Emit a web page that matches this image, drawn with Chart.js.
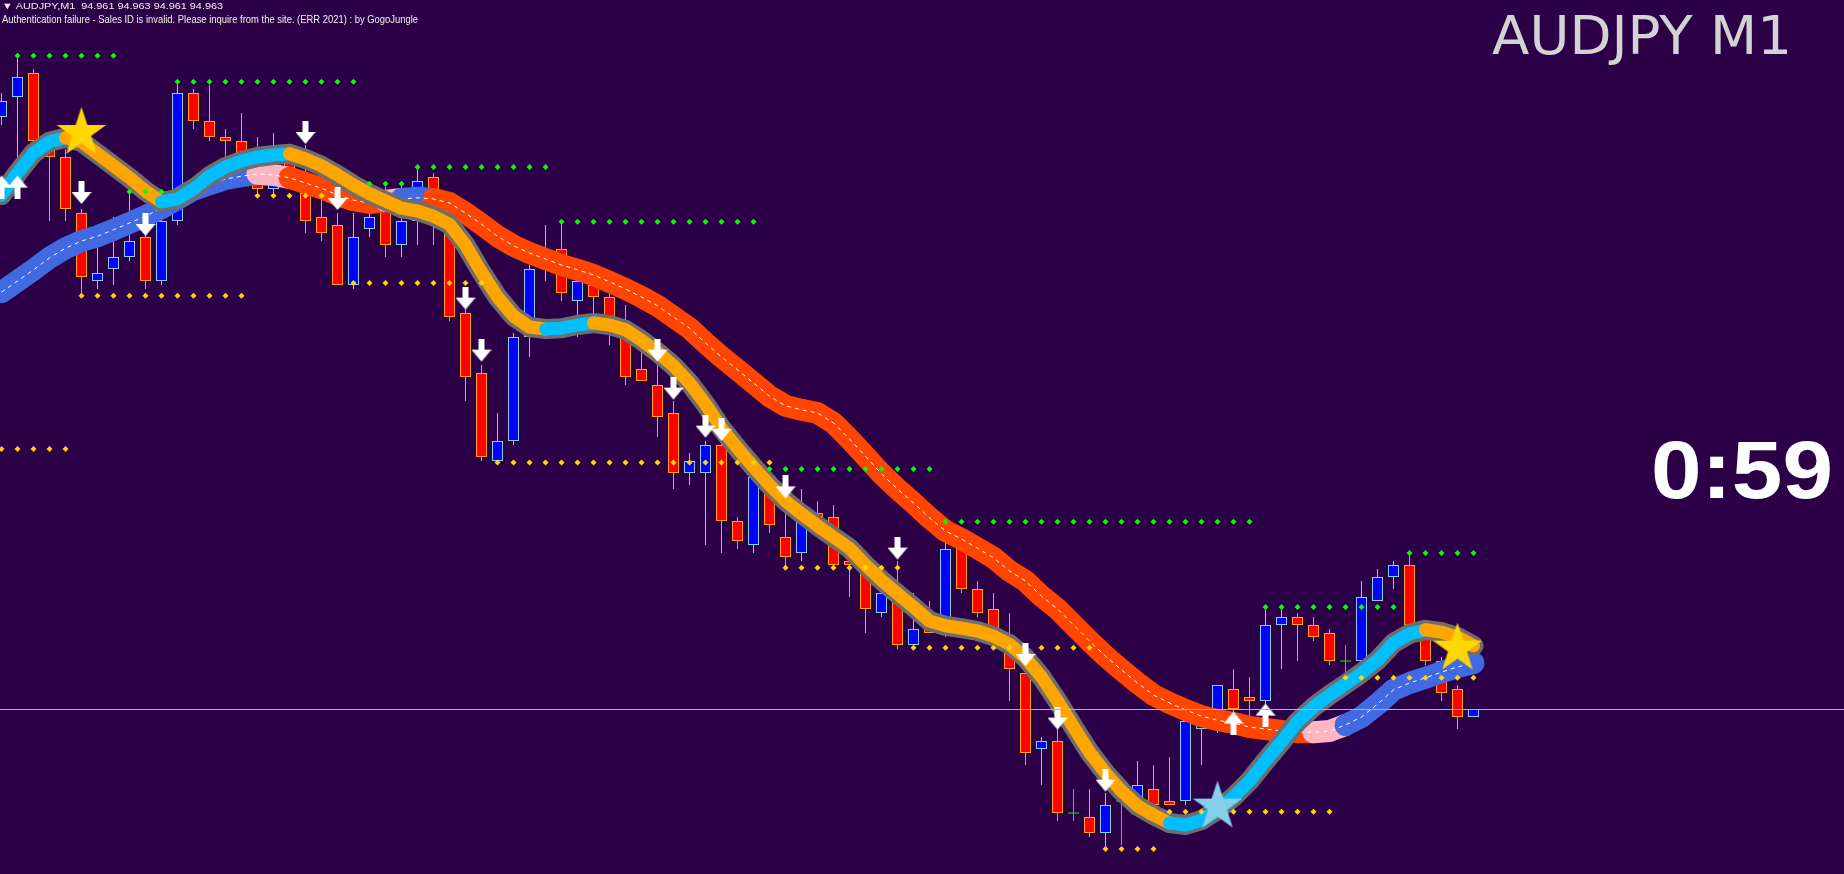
<!DOCTYPE html>
<html>
<head>
<meta charset="utf-8">
<title>AUDJPY M1</title>
<script src="https://cdn.jsdelivr.net/npm/chart.js@4.4.1/dist/chart.umd.min.js"></script>
<style>
  html, body { margin: 0; padding: 0; background: #2B0047; overflow: hidden; }
  #wrap { position: relative; width: 1844px; height: 874px; }
</style>
</head>
<body>
<div id="wrap"><canvas id="mycanvas"></canvas></div>
<script>
// M1 bars, oldest first
var opens = [95.111,95.116,95.122,95.103,95.101,95.087,95.070,95.073,95.076,95.081,
  95.070,95.085,95.117,95.110,95.106,95.105,95.099,95.093,95.100,95.092,
  95.086,95.084,95.069,95.083,95.089,95.079,95.085,95.096,95.084,95.062,
  95.047,95.025,95.030,95.056,95.073,95.078,95.065,95.069,95.066,95.057,
  95.048,95.044,95.037,95.022,95.022,95.029,95.010,95.004,95.018,95.006,
  95.002,95.012,95.011,95.000,94.998,94.987,94.991,94.979,94.983,94.982,
  95.004,94.993,94.988,94.979,94.972,94.953,94.955,94.937,94.936,94.932,
  94.940,94.941,94.943,94.940,94.940,94.958,94.961,94.968,94.966,94.965,
  94.984,94.986,94.984,94.982,94.975,94.975,94.990,94.996,94.999,94.982,
  94.975,94.968,94.961];
var highs = [95.117,95.127,95.123,95.107,95.103,95.088,95.079,95.086,95.092,95.082,
  95.088,95.120,95.118,95.119,95.108,95.112,95.106,95.107,95.103,95.104,
  95.092,95.087,95.087,95.094,95.094,95.095,95.099,95.097,95.087,95.063,
  95.049,95.037,95.057,95.074,95.084,95.085,95.073,95.072,95.067,95.064,
  95.054,95.050,95.040,95.027,95.030,95.030,95.011,95.023,95.023,95.012,
  95.018,95.015,95.014,95.001,95.000,94.999,95.000,94.992,94.990,95.005,
  95.005,94.995,94.992,94.987,94.975,94.956,94.958,94.943,94.943,94.942,
  94.941,94.950,94.949,94.951,94.961,94.964,94.969,94.973,94.971,94.989,
  94.988,94.987,94.986,94.983,94.979,94.995,94.998,95.000,95.002,94.983,
  94.976,94.969,94.963];
var lows = [95.109,95.100,95.104,95.085,95.085,95.067,95.068,95.069,95.075,95.068,
  95.069,95.084,95.108,95.105,95.099,95.100,95.092,95.092,95.093,95.082,
  95.080,95.069,95.068,95.081,95.076,95.076,95.079,95.079,95.060,95.040,
  95.025,95.024,95.029,95.051,95.070,95.065,95.056,95.058,95.054,95.044,
  95.045,95.031,95.018,95.019,95.004,95.002,95.003,95.002,95.007,94.998,
  95.000,95.010,94.998,94.991,94.982,94.986,94.978,94.978,94.982,94.981,
  94.992,94.986,94.980,94.965,94.949,94.944,94.935,94.935,94.931,94.928,
  94.929,94.940,94.939,94.939,94.939,94.949,94.957,94.962,94.960,94.964,
  94.973,94.975,94.980,94.974,94.971,94.974,94.990,94.993,94.984,94.974,
  94.965,94.958,94.961];
var closes = [95.115,95.121,95.105,95.101,95.088,95.071,95.072,95.076,95.080,95.070,
  95.085,95.117,95.110,95.106,95.105,95.102,95.093,95.099,95.095,95.085,
  95.082,95.069,95.081,95.086,95.079,95.085,95.095,95.084,95.061,95.046,
  95.026,95.030,95.056,95.073,95.076,95.067,95.070,95.066,95.060,95.046,
  95.045,95.036,95.022,95.025,95.029,95.010,95.005,95.021,95.009,95.001,
  95.010,95.011,94.999,94.999,94.988,94.992,94.979,94.983,94.982,95.003,
  94.993,94.987,94.981,94.973,94.952,94.955,94.937,94.937,94.932,94.939,
  94.940,94.944,94.939,94.939,94.960,94.962,94.969,94.963,94.965,94.984,
  94.986,94.984,94.981,94.975,94.975,94.991,94.996,94.999,94.984,94.975,
  94.967,94.961,94.963];

// slow and fast moving averages, one value per bar
var slowMA = [95.0672,95.0700,95.0728,95.0758,95.0782,95.0800,95.0812,95.0828,95.0845,95.0862,
  95.0882,95.0905,95.0928,95.0942,95.0955,95.0962,95.0968,95.0965,95.0958,95.0945,
  95.0932,95.0915,95.0902,95.0895,95.0900,95.0905,95.0908,95.0905,95.0895,95.0870,
  95.0842,95.0812,95.0788,95.0770,95.0755,95.0740,95.0728,95.0715,95.0698,95.0680,
  95.0660,95.0638,95.0610,95.0582,95.0545,95.0510,95.0478,95.0445,95.0412,95.0388,
  95.0378,95.0370,95.0345,95.0305,95.0262,95.0218,95.0180,95.0145,95.0108,95.0075,
  95.0055,95.0032,95.0008,94.9975,94.9950,94.9912,94.9880,94.9840,94.9800,94.9762,
  94.9728,94.9695,94.9665,94.9645,94.9628,94.9612,94.9602,94.9595,94.9585,94.9580,
  94.9575,94.9572,94.9572,94.9575,94.9590,94.9610,94.9642,94.9678,94.9695,94.9708,
  94.9722,94.9735,94.9745];
// 1 = up, -1 = down, 0 = turning
var slowTrend = [1,1,1,1,1,1,1,1,1,1, 1,1,1,1,1,1,1,0,0,-1, -1,-1,-1,-1,-1,0,1,1,-1,-1,
  -1,-1,-1,-1,-1,-1,-1,-1,-1,-1, -1,-1,-1,-1,-1,-1,-1,-1,-1,-1, -1,-1,-1,-1,-1,-1,-1,-1,-1,-1,
  -1,-1,-1,-1,-1,-1,-1,-1,-1,-1, -1,-1,-1,-1,-1,-1,-1,-1,-1,-1, -1,-1,-1,0,0,1,1,1,1,1, 1,1,1];

var fastMA = [95.0915,95.0970,95.1020,95.1048,95.1058,95.1048,95.1018,95.0988,95.0958,95.0925,
  95.0898,95.0905,95.0930,95.0962,95.0985,95.1000,95.1010,95.1015,95.1018,95.1005,
  95.0988,95.0965,95.0940,95.0918,95.0900,95.0882,95.0875,95.0862,95.0842,95.0790,
  95.0722,95.0660,95.0612,95.0585,95.0580,95.0582,95.0590,95.0595,95.0590,95.0578,
  95.0552,95.0522,95.0488,95.0445,95.0392,95.0332,95.0282,95.0235,95.0190,95.0150,
  95.0118,95.0088,95.0060,95.0032,94.9990,94.9952,94.9918,94.9885,94.9850,94.9838,
  94.9832,94.9825,94.9812,94.9792,94.9758,94.9710,94.9650,94.9585,94.9522,94.9470,
  94.9425,94.9388,94.9365,94.9345,94.9340,94.9352,94.9378,94.9410,94.9450,94.9500,
  94.9548,94.9598,94.9635,94.9665,94.9692,94.9720,94.9752,94.9795,94.9818,94.9828,
  94.9822,94.9810,94.9788];
var fastTrend = [1,1,1,1,1,-1,-1,-1,-1,-1, -1,1,1,1,1,1,1,1,1,-1,
  -1,-1,-1,-1,-1,-1,-1,-1,-1,-1, -1,-1,-1,-1,-1,1,1,1,-1,-1,
  -1,-1,-1,-1,-1,-1,-1,-1,-1,-1, -1,-1,-1,-1,-1,-1,-1,-1,-1,-1,
  -1,-1,-1,-1,-1,-1,-1,-1,-1,-1, -1,-1,-1,-1,1,1,1,1,1,1,
  1,1,1,1,1,1,1,1,1,1, -1,-1,-1];

// dotted levels: [first bar, last bar, price]
var upperLevels = [[1,7,95.1263],[8,10,95.0923],[11,22,95.1198],[23,25,95.0943],[26,34,95.0985],
  [35,47,95.0848],[48,58,95.0230],[59,78,95.0098],[79,87,94.9885],[88,92,95.0020]];
var lowerLevels = [[0,4,95.0280],[5,15,95.0663],[16,20,95.0913],[22,30,95.0695],[31,48,95.0246],
  [49,56,94.9983],[57,68,94.9783],[69,72,94.9280],[73,83,94.9373],[84,92,94.9708]];

// signal arrows and stars
var sellBars = [5,9,19,21,29,30,41,42,44,45,49,56,64,66,69];
var sellPrices = [95.0920,95.0840,95.1070,95.0905,95.0656,95.0526,95.0526,95.0431,95.0336,95.0328,95.0184,95.0031,94.9765,94.9606,94.9451];
var buyBars = [0,1,77,79];
var buyPrices = [95.0936,95.0936,94.9596,94.9616];
var goldStarBars = [5,91];
var goldStarPrices = [95.1070,94.9781];
var blueStarBars = [76];
var blueStarPrices = [94.9386];

var bidPrice = 94.963;
var symbol = 'AUDJPY';
var period = 'M1';
var countdown = '0:59';
var authMessage = 'Authentication failure - Sales ID is invalid. Please inquire from the site. (ERR 2021) : by GogoJungle';

// ---------- drawing ----------
function pts(xs, ys) {
  var out = [];
  for (var i = 0; i < xs.length; i++) out.push({x: xs[i], y: ys[i]});
  return out;
}
function levelPoints(levels) {
  var out = [];
  levels.forEach(function(l){
    for (var b = l[0]; b <= l[1]; b++) out.push({x: b, y: l[2]});
  });
  return out;
}
function arrowImage(up) {
  var c = document.createElement('canvas');
  c.width = 20; c.height = 24;
  var g = c.getContext('2d');
  if (up) { g.translate(0, 24); g.scale(1, -1); }
  g.fillStyle = '#FFFFFF';
  g.beginPath();
  g.moveTo(7, 0); g.lineTo(13, 0); g.lineTo(13, 11); g.lineTo(20, 11);
  g.lineTo(10, 23); g.lineTo(0, 11); g.lineTo(7, 11);
  g.closePath();
  g.fill();
  return c;
}
function starImage(color) {
  var c = document.createElement('canvas');
  c.width = 56; c.height = 56;
  var g = c.getContext('2d');
  g.fillStyle = color;
  g.beginPath();
  for (var k = 0; k < 10; k++) {
    var rad = k % 2 ? 10 : 26;
    var a = -Math.PI / 2 + k * Math.PI / 5;
    g.lineTo(28 + rad * Math.cos(a), 28 + rad * Math.sin(a));
  }
  g.closePath();
  g.fill();
  return c;
}

var bars = opens.map(function(o, i){ return i; });
var wicks = bars.map(function(i){ return {x: i, y: [lows[i], highs[i]]}; });
var bodies = [], dojis = [];
bars.forEach(function(i){
  if (opens[i] === closes[i]) dojis.push({x: i, y: opens[i]});
  else bodies.push({x: i, y: [opens[i], closes[i]]});
});

function wickColor(i) {
  if (closes[i] > opens[i]) return '#87CEEB';
  if (closes[i] < opens[i]) return '#FFA500';
  return '#00FF00';
}
function slowColor(s) { return s > 0 ? '#4169E1' : (s < 0 ? '#FF4500' : '#FFB6C1'); }
function fastColor(s) { return s > 0 ? '#00BFFF' : '#FFA500'; }

var bgPlugin = {
  id: 'bg',
  beforeDraw: function(chart){
    var c = chart.ctx;
    c.save();
    c.fillStyle = '#2B0047';
    c.fillRect(0, 0, chart.width, chart.height);
    c.restore();
  }
};

function fitText(c, str, x, base, font, color, width) {
  c.save();
  c.font = font;
  var w = c.measureText(str).width;
  c.translate(x, base);
  if (width) c.scale(width / w, 1);
  c.fillStyle = color;
  c.textBaseline = 'alphabetic';
  c.fillText(str, 0, 0);
  c.restore();
}

var overlayPlugin = {
  id: 'overlay',
  afterDatasetsDraw: function(chart){
    var c = chart.ctx;
    var y = Math.round(chart.scales.y.getPixelForValue(bidPrice)) + 0.5;
    c.save();
    c.strokeStyle = '#E8B23A';
    c.lineWidth = 1;
    c.beginPath();
    c.moveTo(0, y);
    c.lineTo(chart.width, y);
    c.stroke();
    c.restore();

    var last = opens.length - 1;
    var head = '\u25BC ' + symbol + ',' + period + '  ' +
      [opens[last], highs[last], lows[last], closes[last]].map(function(v){ return v.toFixed(3); }).join(' ');
    fitText(c, head, 2, 9, '9px "Liberation Sans"', '#F0F0F0', 221);
    fitText(c, authMessage, 2, 23, '10px "Liberation Sans"', '#F0F0F0', 416);
    fitText(c, symbol + ' ' + period, 1492, 54, '54px "DejaVu Sans"', '#D3D3D3', 300);
    fitText(c, countdown, 1651, 498, 'bold 81px "Liberation Sans"', '#FFFFFF', 182);
  }
};

var ctx = document.getElementById('mycanvas');
var chart = new Chart(ctx, {
  type: 'bar',
  data: {
    datasets: [
      { type: 'line', data: pts(goldStarBars, goldStarPrices), showLine: false,
        pointStyle: starImage('#FFD700'), pointRadius: 5, order: 0 },
      { type: 'line', data: pts(blueStarBars, blueStarPrices), showLine: false,
        pointStyle: starImage('#87CEEB'), pointRadius: 5, order: 0 },
      { type: 'line', data: pts(sellBars, sellPrices), showLine: false,
        pointStyle: arrowImage(false), pointRadius: 5, order: 1 },
      { type: 'line', data: pts(buyBars, buyPrices), showLine: false,
        pointStyle: arrowImage(true), pointRadius: 5, order: 1 },
      { type: 'line', data: levelPoints(upperLevels), showLine: false,
        pointStyle: 'rectRot', pointRadius: 3, pointBorderWidth: 0, pointBackgroundColor: '#00FF00', order: 2 },
      { type: 'line', data: levelPoints(lowerLevels), showLine: false,
        pointStyle: 'rectRot', pointRadius: 3, pointBorderWidth: 0, pointBackgroundColor: '#FFD700', order: 2 },
      { type: 'line', data: pts(bars, fastMA), borderWidth: 13, pointRadius: 0,
        borderCapStyle: 'round', borderJoinStyle: 'round',
        segment: { borderColor: function(s){ return fastColor(fastTrend[s.p1DataIndex]); } }, order: 4 },
      { type: 'line', data: pts(bars, fastMA), borderWidth: 20, pointRadius: 0,
        borderColor: '#6E6E6E', borderCapStyle: 'round', borderJoinStyle: 'round', order: 5 },
      { type: 'line', data: pts(bars, slowMA), borderWidth: 1, pointRadius: 0,
        borderColor: '#FFFFFF', borderDash: [4, 4], order: 6 },
      { type: 'line', data: pts(bars, slowMA), borderWidth: 22, pointRadius: 0,
        borderCapStyle: 'round', borderJoinStyle: 'round',
        segment: { borderColor: function(s){ return slowColor(slowTrend[s.p1DataIndex]); } }, order: 7 },
      { type: 'line', data: dojis, showLine: false, pointStyle: 'line', pointRadius: 5.5,
        pointBorderColor: '#00FF00', pointBorderWidth: 1, order: 8 },
      { type: 'bar', data: bodies, grouped: false, barThickness: 11, borderWidth: 1,
        borderSkipped: false, inflateAmount: 0,
        backgroundColor: function(c){ var i = c.raw.x; return closes[i] > opens[i] ? '#0000FF' : '#FF0000'; },
        borderColor: function(c){ var i = c.raw.x; return closes[i] > opens[i] ? '#87CEEB' : '#FFA500'; },
        order: 9 },
      { type: 'bar', data: wicks, grouped: false, barThickness: 1, borderWidth: 0, inflateAmount: 0,
        backgroundColor: function(c){ return wickColor(c.raw.x); }, order: 10 }
    ]
  },
  options: {
    responsive: true,
    maintainAspectRatio: false,
    animation: false,
    events: [],
    layout: { padding: 0, autoPadding: false },
    plugins: { legend: { display: false }, tooltip: { enabled: false }, title: { display: false } },
    scales: {
      x: { type: 'linear', display: false, offset: false, min: -0.09375, max: 115.15625 },
      y: { type: 'linear', display: false, min: 94.92175, max: 95.14025 }
    }
  },
  plugins: [bgPlugin, overlayPlugin]
});
</script>
</body>
</html>
